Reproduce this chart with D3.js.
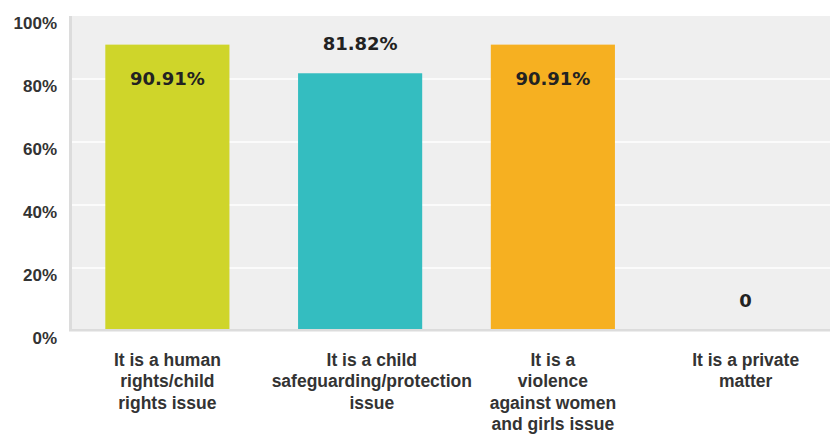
<!DOCTYPE html>
<html>
<head>
<meta charset="utf-8">
<script src="https://cdn.jsdelivr.net/npm/d3@7"></script>
<style>
  html, body { margin: 0; padding: 0; background: #fff; }
  svg { display: block; }
</style>
</head>
<body>
<svg id="chart" width="830" height="438"></svg>
<script>
// ---- data ----
const categories = [
  "It is a human rights/child rights issue",
  "It is a child safeguarding/protection issue",
  "It is a violence against women and girls issue",
  "It is a private matter"
];
const categoryLines = [
  ["It is a human", "rights/child", "rights issue"],
  ["It is a child", "safeguarding/protection", "issue"],
  ["It is a", "violence", "against women", "and girls issue"],
  ["It is a private", "matter"]
];
const values = [90.91, 81.82, 90.91, 0];
const valueLabels = ["90.91%", "81.82%", "90.91%", "0"];
const barColors = ["#cfd52a", "#34bdc0", "#f6b021", "#9aa0a6"];
const yTicks = [0, 20, 40, 60, 80, 100];

// ---- layout ----
const svg = d3.select("#chart");
const W = 830, H = 438;
const plot = { left: 71, right: 842, top: 16, bottom: 331 };
const labelBoxWidth = 177;

const x = d3.scaleBand()
  .domain(categories)
  .range([plot.left, plot.right])
  .paddingInner(0.356)
  .paddingOuter(0.178);

const y = d3.scaleLinear()
  .domain([0, 100])
  .range([plot.bottom, plot.top]);

// background
svg.append("rect")
  .attr("x", plot.left).attr("y", plot.top)
  .attr("width", W - plot.left).attr("height", plot.bottom - plot.top)
  .attr("fill", "#efefef");

// gridlines
svg.append("g")
  .selectAll("line")
  .data(yTicks.filter(t => t > 0 && t < 100))
  .join("line")
  .attr("x1", plot.left).attr("x2", W)
  .attr("y1", d => y(d)).attr("y2", d => y(d))
  .attr("stroke", "#ffffff")
  .attr("stroke-width", 1.5);

// bars
svg.append("g")
  .selectAll("rect")
  .data(values)
  .join("rect")
  .attr("x", (d, i) => x(categories[i]))
  .attr("y", d => y(d))
  .attr("width", x.bandwidth())
  .attr("height", d => plot.bottom - y(d))
  .attr("fill", (d, i) => barColors[i]);

// axes frame (left + bottom gray)
svg.append("rect")
  .attr("x", 69).attr("y", plot.top)
  .attr("width", 3).attr("height", plot.bottom - plot.top)
  .attr("fill", "#dcdcdc");
svg.append("rect")
  .attr("x", 69).attr("y", 329)
  .attr("width", W - 69).attr("height", 2.5)
  .attr("fill", "#dcdcdc");

// y axis labels
const yAxis = d3.axisLeft(y)
  .tickValues(yTicks)
  .tickFormat(d => d + "%")
  .tickSize(0)
  .tickPadding(0);
const gy = svg.append("g")
  .attr("transform", `translate(57,7)`)
  .call(yAxis);
gy.select(".domain").remove();
gy.selectAll("text")
  .attr("font-family", "'Liberation Sans', Arial, sans-serif")
  .attr("font-weight", "bold")
  .attr("font-size", "17px")
  .attr("fill", "#333333");

// x axis labels (multi-line, centred in a box; overflowing lines spill right)
const xAxis = d3.axisBottom(x).tickSize(0).tickFormat("");
const gx = svg.append("g")
  .attr("transform", `translate(0,${plot.bottom})`)
  .call(xAxis);
gx.select(".domain").remove();
gx.selectAll(".tick").each(function(d, i) {
  const t = d3.select(this).append("text")
    .attr("text-anchor", "middle")
    .attr("font-family", "'Liberation Sans', Arial, sans-serif")
    .attr("font-weight", "bold")
    .attr("font-size", "17.5px")
    .attr("fill", "#333333");
  categoryLines[i].forEach((line, k) => {
    t.append("tspan")
      .attr("x", 0)
      .attr("y", 35 + k * 21.3)
      .text(line);
  });
  const bb = t.node().getBBox();
  if (bb.width > labelBoxWidth) {
    t.attr("transform", `translate(${(bb.width - labelBoxWidth) / 2},0)`);
  }
});

// value labels
svg.append("g")
  .selectAll("text")
  .data(values)
  .join("text")
  .attr("x", (d, i) => x(categories[i]) + x.bandwidth() / 2)
  .attr("y", d => {
    const top = y(d);
    return (top - 30 < plot.top + 12) ? top + 34 : top - 30;
  })
  .attr("dy", "0.36em")
  .attr("text-anchor", "middle")
  .attr("font-family", "'DejaVu Sans', Verdana, sans-serif")
  .attr("font-weight", "bold")
  .attr("font-size", "18px")
  .attr("fill", "#222222")
  .text((d, i) => valueLabels[i]);
</script>
</body>
</html>
